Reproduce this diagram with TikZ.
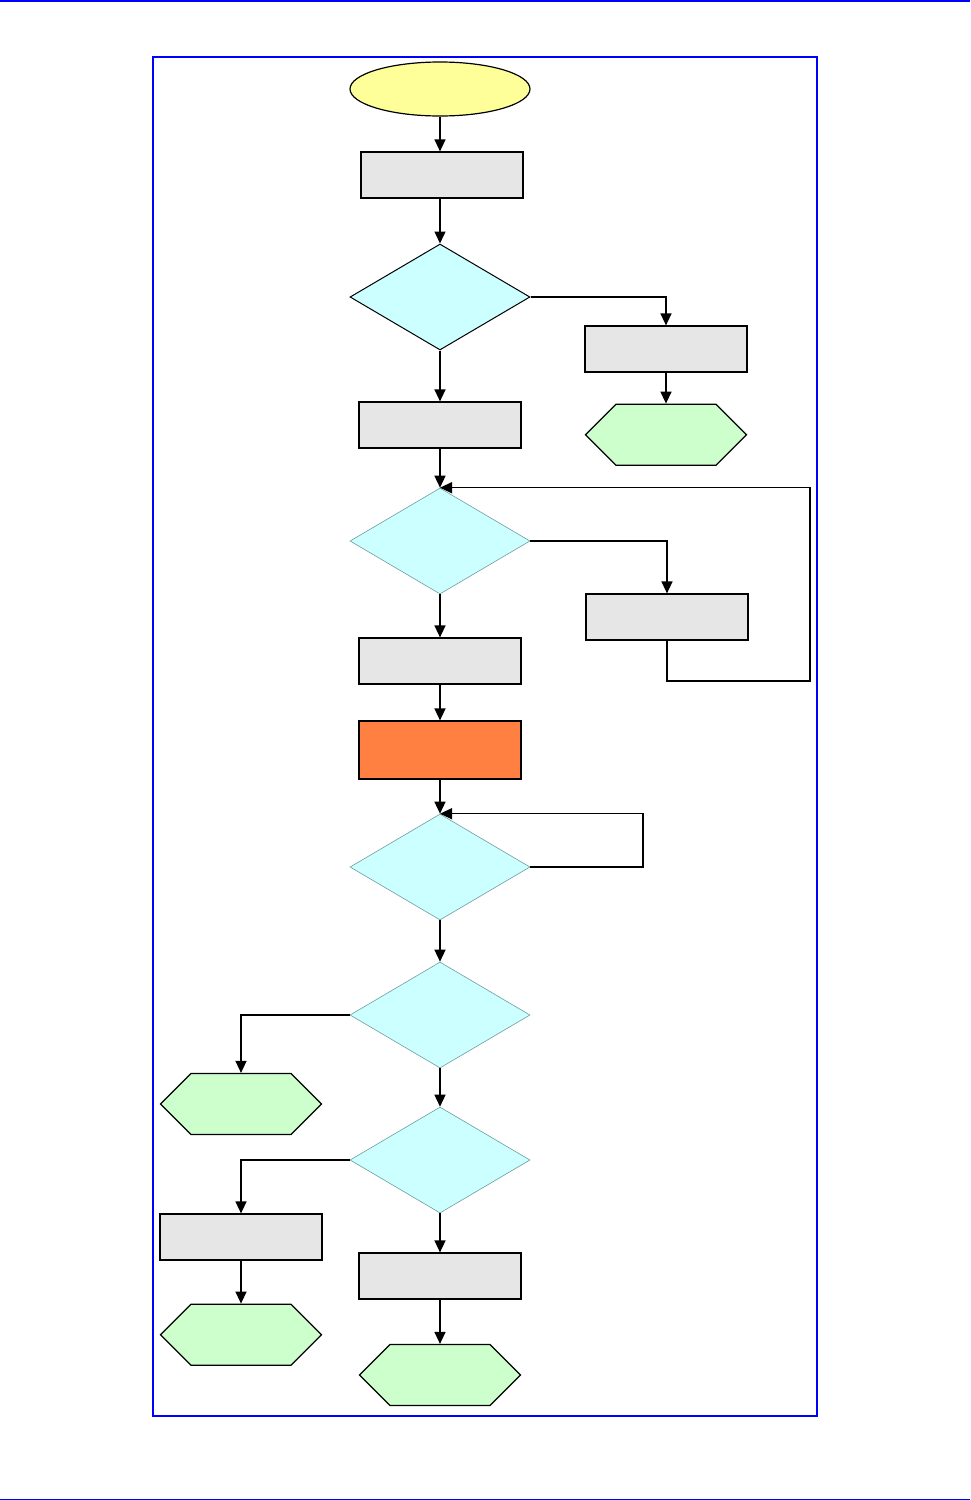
\documentclass[tikz,border=0pt]{standalone}
\usepackage{xcolor}
\usepackage{tikz}
\usetikzlibrary{arrows.meta, positioning, shapes.geometric, shapes.symbols}

\definecolor{boxgray}{HTML}{E6E6E6}
\definecolor{startyellow}{HTML}{FFFF99}
\definecolor{deccyan}{HTML}{CCFFFF}
\definecolor{endgreen}{HTML}{CCFFCC}
\definecolor{actorange}{HTML}{FF8040}
\definecolor{decedge}{HTML}{6F9C9C}

\begin{document}
\begin{tikzpicture}[
  x=1pt, y=-1pt,
  box/.style={rectangle, draw=black, line width=1.2pt, fill=boxgray,
              minimum width=162pt, minimum height=46pt, inner sep=0pt},
  actbox/.style={box, fill=actorange, minimum height=58pt},
  startnode/.style={ellipse, draw=black, line width=1.2pt, fill=startyellow,
              minimum width=180pt, minimum height=54pt, inner sep=0pt},
  dec/.style={diamond, draw=decedge, line width=0.6pt, fill=deccyan,
              minimum width=180pt, minimum height=106pt, inner sep=0pt},
  hexa/.style={signal, signal to=east and west, signal pointer angle=90,
              draw=black, line width=1.2pt, fill=endgreen,
              minimum width=161pt, minimum height=61pt, inner sep=0pt},
  arr/.style={-{Triangle[length=12pt,width=11pt]}, line width=1.4pt, black},
  frame/.style={draw=blue, line width=2pt}
]
\useasboundingbox (0,0) rectangle (970,1500);

% Page rules and frame
\draw[blue, line width=2pt] (0,1) -- (970,1);
\draw[blue, line width=1pt] (0,1499) -- (970,1499);
\draw[frame] (153,57) rectangle (817,1416);

% Main column
\node[startnode] (start) at (440,89) {};
\node[box] (box1) at (442,175) {};
\node[dec, draw=black, line width=1pt] (d1) at (440,297) {};
\node[box] (box2) at (440,425) {};
\node[dec] (d2) at (440,541) {};
\node[box] (box3) at (440,661) {};
\node[actbox] (act) at (440,750) {};
\node[dec] (d3) at (440,867) {};
\node[dec] (d4) at (440,1015) {};
\node[dec] (d5) at (440,1160) {};
\node[box] (box4) at (440,1276) {};
\node[hexa] (hexB) at (440,1375) {};

% Right branches
\node[box] (boxR1) at (666,349) {};
\node[hexa, below=31pt of boxR1] (hexR1) {};
\node[box] (boxR2) at (667,617) {};

% Left branches
\node[hexa] (hexL1) at (241,1104) {};
\node[box] (boxL2) at (241,1237) {};
\node[hexa, below=43pt of boxL2] (hexL2) {};

% Loop corners
\coordinate (loopR) at (810,681);
\coordinate (loopW) at (643,867);

% Arrows down the main column
\draw[arr] (start) -- (start |- box1.north);
\draw[arr] (box1.south -| start) -- (d1);
\draw[arr] (d1) -- (box2);
\draw[arr] (box2) -- (d2);
\draw[arr] (d2) -- (box3);
\draw[arr] (box3) -- (act);
\draw[arr] (act) -- (d3);
\draw[arr] (d3) -- (d4);
\draw[arr] (d4) -- (d5);
\draw[arr] (d5) -- (box4);
\draw[arr] (box4) -- (hexB);

% Side branches
\draw[arr] (d1.east) -| (boxR1.north);
\draw[arr] (boxR1) -- (hexR1);
\draw[arr] (d2.east) -| (boxR2.north);
\draw[arr] (boxR2.south) |- (loopR) |- (d2.north);
\draw[arr] (d3.east) -- (loopW) |- (d3.north);
\draw[arr] (d4.west) -| (hexL1.north);
\draw[arr] (d5.west) -| (boxL2.north);
\draw[arr] (boxL2) -- (hexL2);

\end{tikzpicture}
\end{document}
